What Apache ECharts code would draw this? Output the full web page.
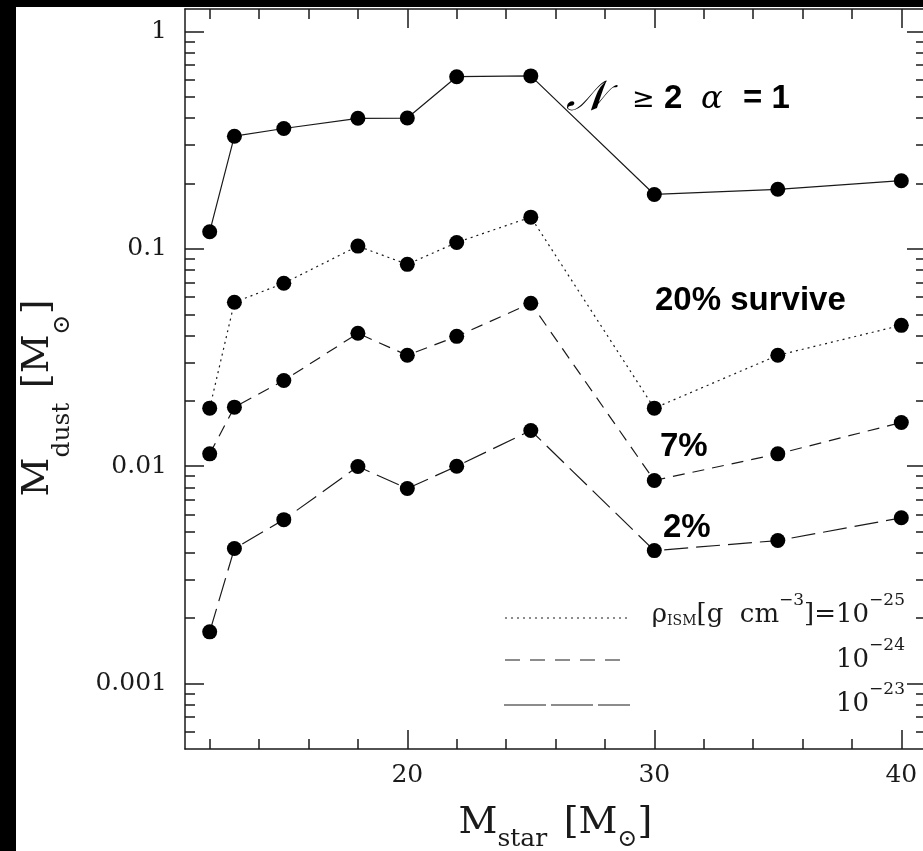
<!DOCTYPE html>
<html>
<head>
<meta charset="utf-8">
<script src="https://cdn.jsdelivr.net/npm/echarts@6/dist/echarts.min.js"></script>
<style>
html,body{margin:0;padding:0;background:#000;}
#chart{width:923px;height:851px;}
</style>
</head>
<body>
<div id="chart"></div>
<script>
// ---- data ----
const starMass = [12, 13, 15, 18, 20, 22, 25, 30, 35, 40];
const dustAll = [0.12, 0.33, 0.358, 0.399, 0.40, 0.62, 0.625, 0.178, 0.188, 0.206];
const dust1e25 = [0.0185, 0.0568, 0.0695, 0.103, 0.0849, 0.107, 0.140, 0.0185, 0.0324, 0.0445];
const dust1e24 = [0.0114, 0.0187, 0.0248, 0.0409, 0.0324, 0.0396, 0.0562, 0.0086, 0.0114, 0.0159];
const dust1e23 = [0.00173, 0.00418, 0.00568, 0.00997, 0.0079, 0.0100, 0.0146, 0.00409, 0.00455, 0.00579];

const xMajorTicks = [20, 30, 40];
const xMinorTicks = [12, 14, 16, 18, 22, 24, 26, 28, 32, 34, 36, 38];
const yMajorTicks = [0.001, 0.01, 0.1, 1];
const yTickLabels = ['0.001', '0.01', '0.1', '1'];
const yMinorTicks = [0.0006, 0.0007, 0.0008, 0.0009,
  0.002, 0.003, 0.004, 0.005, 0.006, 0.007, 0.008, 0.009,
  0.02, 0.03, 0.04, 0.05, 0.06, 0.07, 0.08, 0.09,
  0.2, 0.3, 0.4, 0.5, 0.6, 0.7, 0.8, 0.9];

const X_MIN = 11, X_MAX = 41;
const Y_MIN = 0.0005, Y_MAX = 1.27;

// ---- chart ----
const chart = echarts.init(document.getElementById('chart'), null, {renderer: 'canvas'});
const INK = '#1a1a1a';
const serif = 'DejaVu Serif';
const lg = v => Math.log10(v);

function pairs(ys) { return starMass.map((x, i) => [x, ys[i]]); }

function xAux(position, ticks, len, showLine, showLabel) {
  return {
    type: 'value', min: X_MIN, max: X_MAX, position: position,
    axisLine: {show: showLine, onZero: false, lineStyle: {color: INK, width: 1.5}},
    splitLine: {show: false},
    axisTick: {show: true, inside: true, length: len, customValues: ticks, lineStyle: {color: INK, width: 1.5}},
    axisLabel: showLabel ? {show: true, customValues: ticks, margin: 14, color: INK,
      fontFamily: serif, fontSize: 25} : {show: false}
  };
}
function yAux(position, ticks, len, showLine, showLabel) {
  return {
    type: 'value', min: lg(Y_MIN), max: lg(Y_MAX), position: position,
    axisLine: {show: showLine, onZero: false, lineStyle: {color: INK, width: 1.5}},
    splitLine: {show: false},
    axisTick: {show: true, inside: true, length: len, customValues: ticks.map(lg), lineStyle: {color: INK, width: 1.5}},
    axisLabel: showLabel ? {show: true, customValues: ticks.map(lg), margin: 18, color: INK,
      fontFamily: serif, fontSize: 25,
      formatter: v => { const k = yMajorTicks.findIndex(t => Math.abs(lg(t) - v) < 1e-6); return k >= 0 ? yTickLabels[k] : ''; }
    } : {show: false}
  };
}

const titleRich = {
  m: {fontFamily: serif, fontSize: 38, color: INK, fill: INK, lineHeight: 56, verticalAlign: 'top'},
  s: {fontFamily: serif, fontSize: 25, color: INK, fill: INK, lineHeight: 50, verticalAlign: 'bottom'},
  sp: {fontSize: 26},
  b: {fontFamily: serif, fontSize: 38, color: INK, fill: INK, lineHeight: 56, verticalAlign: 'top'},
  o: {fontFamily: serif, fontSize: 24, color: INK, fill: INK, lineHeight: 50, verticalAlign: 'bottom'}
};
const xTitleRich = {
  m: titleRich.m,
  s: Object.assign({}, titleRich.s, {padding: [0, 0, 8, 0]}),
  sp: titleRich.sp,
  b: titleRich.b,
  o: Object.assign({}, titleRich.o, {padding: [0, 0, 8, 0]})
};

const xMain = xAux('bottom', xMajorTicks, 19, true, true);
xMain.name = '{m|M}{s|star}{sp|  }{b|[M}{o|⊙}{b|]}';
xMain.nameLocation = 'middle';
xMain.nameGap = 55;
xMain.nameTextStyle = {color: INK, fontFamily: serif, rich: xTitleRich};

const yLog = {
  type: 'log', logBase: 10, min: Y_MIN, max: Y_MAX, position: 'left', show: true,
  axisLine: {show: false}, axisTick: {show: false}, axisLabel: {show: false}, splitLine: {show: false}
};

function lineSeries(name, ys, type) {
  return {
    name: name, type: 'line', xAxisIndex: 0, yAxisIndex: 0, data: pairs(ys),
    symbol: 'circle', symbolSize: 15, showSymbol: true,
    itemStyle: {color: '#000'},
    lineStyle: {color: INK, width: 1.2, type: type},
    emphasis: {disabled: true}, animation: false, z: 5
  };
}

const bold33 = 'bold 33px "Liberation Sans"';
const supRich = {
  r: {fontFamily: serif, fontSize: 26, fill: INK, lineHeight: 36, verticalAlign: 'bottom'},
  i: {fontFamily: serif, fontSize: 14, fill: INK, lineHeight: 36, verticalAlign: 'bottom'},
  u: {fontFamily: serif, fontSize: 17, fill: INK, lineHeight: 36, verticalAlign: 'top'}
};

const option = {
  backgroundColor: '#000',
  animation: false,
  grid: {left: 185, right: -3, top: 9, bottom: 102, containLabel: false, outerBoundsMode: 'none'},
  xAxis: [
    xMain,
    xAux('bottom', xMinorTicks, 10, false, false),
    xAux('top', xMajorTicks, 19, true, false),
    xAux('top', xMinorTicks, 10, false, false)
  ],
  yAxis: [
    yLog,
    yAux('left', yMajorTicks, 19, true, true),
    yAux('left', yMinorTicks, 10, false, false),
    yAux('right', yMajorTicks, 19, true, false),
    yAux('right', yMinorTicks, 10, false, false)
  ],
  series: [
    lineSeries('all', dustAll, 'solid'),
    lineSeries('1e-25', dust1e25, [2, 4]),
    lineSeries('1e-24', dust1e24, [12, 8]),
    lineSeries('1e-23', dust1e23, [24, 8])
  ],
  graphic: [
    {type: 'rect', left: 16, top: 7, shape: {width: 923, height: 851}, style: {fill: '#fff'}, z: -10, silent: true},
    // y axis title (rotated)
    {type: 'text', x: 47, y: 398, rotation: Math.PI / 2, z: 10, style: {
      text: '{m|M}{s|dust}{sp|  }{b|[M}{o|⊙}{b|]}', rich: titleRich,
      align: 'center', verticalAlign: 'middle'}},
    // top annotation
    {type: 'text', x: 566, y: 99, z: 10, style: {text: '𝒩', font: 'italic 42px "DejaVu Serif"', fill: '#000', verticalAlign: 'middle'}},
    {type: 'text', x: 632, y: 100, z: 10, style: {text: '≥', font: '27px "DejaVu Sans"', fill: '#000', verticalAlign: 'middle'}},
    {type: 'text', x: 664, y: 99, z: 10, style: {text: '2', font: bold33, fill: '#000', verticalAlign: 'middle'}},
    {type: 'text', x: 701, y: 100, z: 10, style: {text: 'α', font: 'italic 32px "DejaVu Serif"', fill: '#000', verticalAlign: 'middle'}},
    {type: 'text', x: 743, y: 99, z: 10, style: {text: '= 1', font: bold33, fill: '#000', verticalAlign: 'middle'}},
    {type: 'text', x: 655, y: 301, z: 10, style: {text: '20% survive', font: bold33, fill: '#000', verticalAlign: 'middle'}},
    {type: 'text', x: 660, y: 447, z: 10, style: {text: '7%', font: bold33, fill: '#000', verticalAlign: 'middle'}},
    {type: 'text', x: 663, y: 528, z: 10, style: {text: '2%', font: bold33, fill: '#000', verticalAlign: 'middle'}},
    // legend lines
    {type: 'line', z: 10, shape: {x1: 505, y1: 618, x2: 627, y2: 618}, style: {stroke: INK, lineWidth: 1.2, lineDash: [2, 4]}},
    {type: 'line', z: 10, shape: {x1: 505, y1: 660, x2: 620, y2: 660}, style: {stroke: INK, lineWidth: 1.2, lineDash: [15, 10]}},
    {type: 'line', z: 10, shape: {x1: 504, y1: 705, x2: 630, y2: 705}, style: {stroke: INK, lineWidth: 1.2, lineDash: [42, 5]}},
    {type: 'text', x: 905, y: 610, z: 10, style: {
      text: '{r|ρ}{i|ISM}{r|[g  cm}{u|−3}{r|]=10}{u|−25}', rich: supRich,
      align: 'right', verticalAlign: 'middle'}},
    {type: 'text', x: 905, y: 655, z: 10, style: {
      text: '{r|10}{u|−24}', rich: supRich, align: 'right', verticalAlign: 'middle'}},
    {type: 'text', x: 905, y: 699, z: 10, style: {
      text: '{r|10}{u|−23}', rich: supRich, align: 'right', verticalAlign: 'middle'}}
  ]
};
chart.setOption(option);
</script>
</body>
</html>
